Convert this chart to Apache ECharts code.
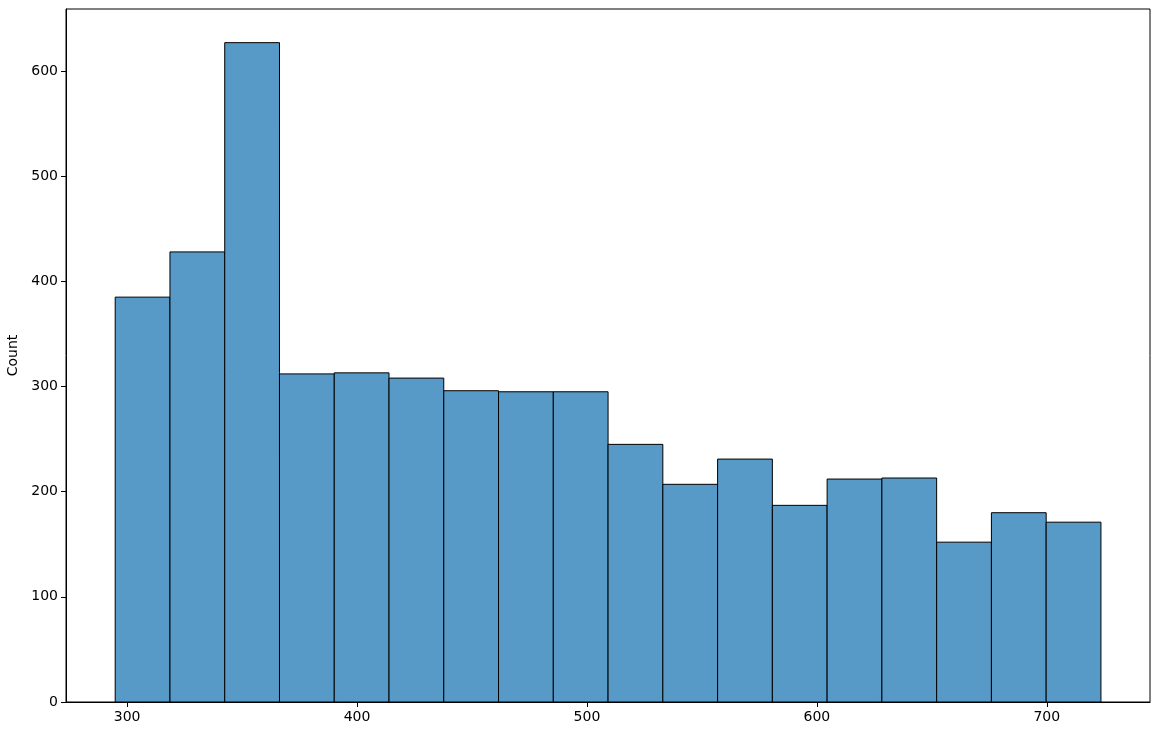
<!DOCTYPE html>
<html>
<head>
<meta charset="utf-8">
<script src="https://cdn.jsdelivr.net/npm/echarts@6/dist/echarts.min.js"></script>
<style>html,body{margin:0;padding:0;background:#fff}#c{width:1160px;height:736px}</style>
</head>
<body>
<div id="c"></div>
<script>
const binStart = 294.8;
const binWidth = 23.82;
const counts = [385, 428, 627, 312, 313, 308, 296, 295, 295, 245, 207, 231, 187, 212, 213, 152, 180, 171];
const xTicks = [300, 400, 500, 600, 700];
const yTicks = [0, 100, 200, 300, 400, 500, 600];

const data = counts.map((c, i) => [binStart + i * binWidth, binStart + (i + 1) * binWidth, c]);
const xMin = 273.4, xMax = 744.9, yMax = 659;

const chart = echarts.init(document.getElementById('c'), null, {renderer: 'canvas'});
const font = 'DejaVu Sans';
chart.setOption({
  animation: false,
  grid: {left: 66, right: 10, top: 9, bottom: 34, show: true, borderColor: '#000', borderWidth: 1, backgroundColor: 'transparent', containLabel: false, outerBoundsMode: 'none'},
  xAxis: {
    type: 'value', min: xMin, max: xMax,
    axisLine: {show: true, lineStyle: {color: '#000', width: 1}},
    axisTick: {show: true, length: 5, lineStyle: {color: '#000'}, customValues: xTicks},
    axisLabel: {color: '#000', fontFamily: font, fontSize: 14, margin: 8, customValues: xTicks},
    splitLine: {show: false}
  },
  yAxis: {
    type: 'value', min: 0, max: yMax,
    name: 'Count', nameLocation: 'middle', nameGap: 42, nameRotate: 90,
    nameTextStyle: {color: '#000', fontFamily: font, fontSize: 14},
    axisLine: {show: true, lineStyle: {color: '#000', width: 1}},
    axisTick: {show: true, length: 5, lineStyle: {color: '#000'}, customValues: yTicks},
    axisLabel: {color: '#000', fontFamily: font, fontSize: 14, margin: 8, customValues: yTicks},
    splitLine: {show: false}
  },
  series: [{
    type: 'custom',
    data: data,
    encode: {x: [0, 1], y: 2},
    renderItem: function (params, api) {
      const p0 = api.coord([api.value(0), api.value(2)]);
      const p1 = api.coord([api.value(1), 0]);
      return {
        type: 'rect',
        shape: {x: p0[0], y: p0[1], width: p1[0] - p0[0], height: p1[1] - p0[1]},
        style: {fill: '#5799c7', stroke: '#000', lineWidth: 1}
      };
    }
  }]
});
</script>
</body>
</html>
